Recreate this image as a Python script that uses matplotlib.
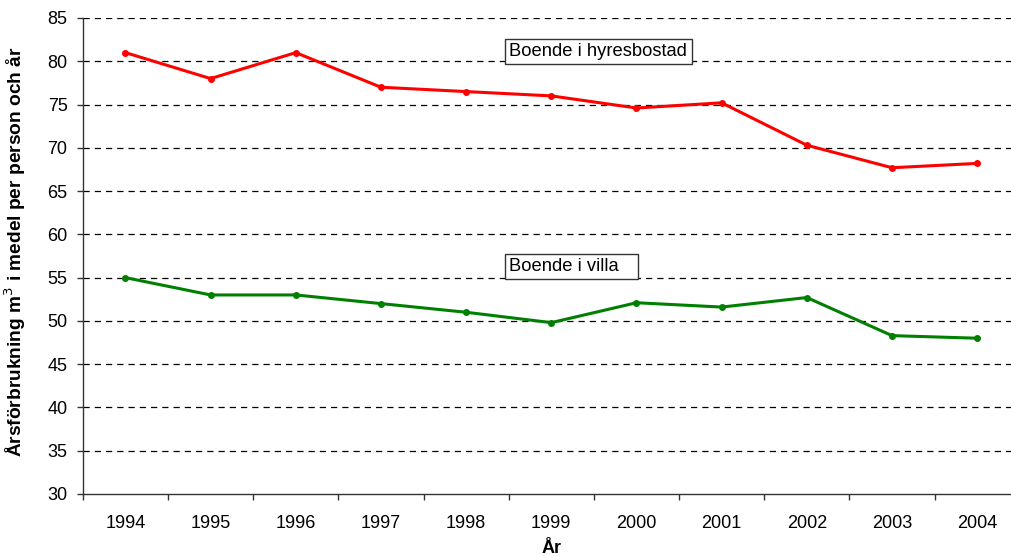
import matplotlib
matplotlib.use("Agg")
import matplotlib.pyplot as plt
from matplotlib.patches import Rectangle

years = ["1994", "1995", "1996", "1997", "1998", "1999", "2000", "2001", "2002", "2003", "2004"]
hyresbostad = [81.0, 78.0, 81.0, 77.0, 76.5, 76.0, 74.6, 75.2, 70.3, 67.7, 68.2]
villa = [55.0, 53.0, 53.0, 52.0, 51.0, 49.8, 52.1, 51.6, 52.7, 48.3, 48.0]
yticks = [30, 35, 40, 45, 50, 55, 60, 65, 70, 75, 80, 85]

plt.rcParams['font.family'] = ['Liberation Sans', 'DejaVu Sans']

W, H = 1012, 556
fig = plt.figure(figsize=(W / 100, H / 100), dpi=100)
left, right, top, bottom = 82.8, 1019.8, 18.0, 494.0
ax = fig.add_axes([left / W, (H - bottom) / H, (right - left) / W, (bottom - top) / H])

x = list(range(len(years)))
ax.plot(x, hyresbostad, color='#ff0000', lw=2.2, marker='o', ms=4, zorder=3)
ax.plot(x, villa, color='#008000', lw=2.2, marker='o', ms=4, zorder=3)

ax.set_xlim(-0.5, len(years) - 0.5)
ax.set_ylim(30, 85)
ax.set_yticks(yticks)
ax.set_yticklabels([str(v) for v in yticks], fontsize=13)
ax.set_xticks(x)
ax.set_xticklabels(years, fontsize=13)
ax.set_xticks([i - 0.5 for i in range(len(years) + 1)], minor=True)
ax.tick_params(axis='x', which='major', length=0, pad=15)
ax.tick_params(axis='x', which='minor', length=4, width=1, color='#333333')
ax.tick_params(axis='y', length=4, width=1, color='#333333', pad=7)

for v in yticks[1:]:
    ax.axhline(v, color='black', lw=0.9, ls=(0, (5, 4)), zorder=1)

for s in ['top', 'right']:
    ax.spines[s].set_visible(False)
for s in ['left', 'bottom']:
    ax.spines[s].set_color('#333333')
    ax.spines[s].set_linewidth(1)

ax.set_ylabel("Årsförbrukning m$^3$ i medel per person och år", fontsize=13.8,
              fontweight='bold')
ax.yaxis.set_label_coords(-0.058, 0.51)
ax.set_xlabel("År", fontsize=13, fontweight='bold', labelpad=6)

# label boxes (x0, x1, y0, y1 in data units)
for (x0, x1, y0, y1), txt in [((4.46, 6.655, 79.65, 82.54), "Boende i hyresbostad"),
                              ((4.46, 6.02, 54.81, 57.70), "Boende i villa")]:
    ax.add_patch(Rectangle((x0, y0), x1 - x0, y1 - y0, facecolor='white',
                           edgecolor='#333333', lw=1, zorder=4))
    ax.text(x0 + 0.04, (y0 + y1) / 2, txt, fontsize=13.2, va='center', ha='left',
            zorder=5)

fig.savefig("out.png", dpi=100)
